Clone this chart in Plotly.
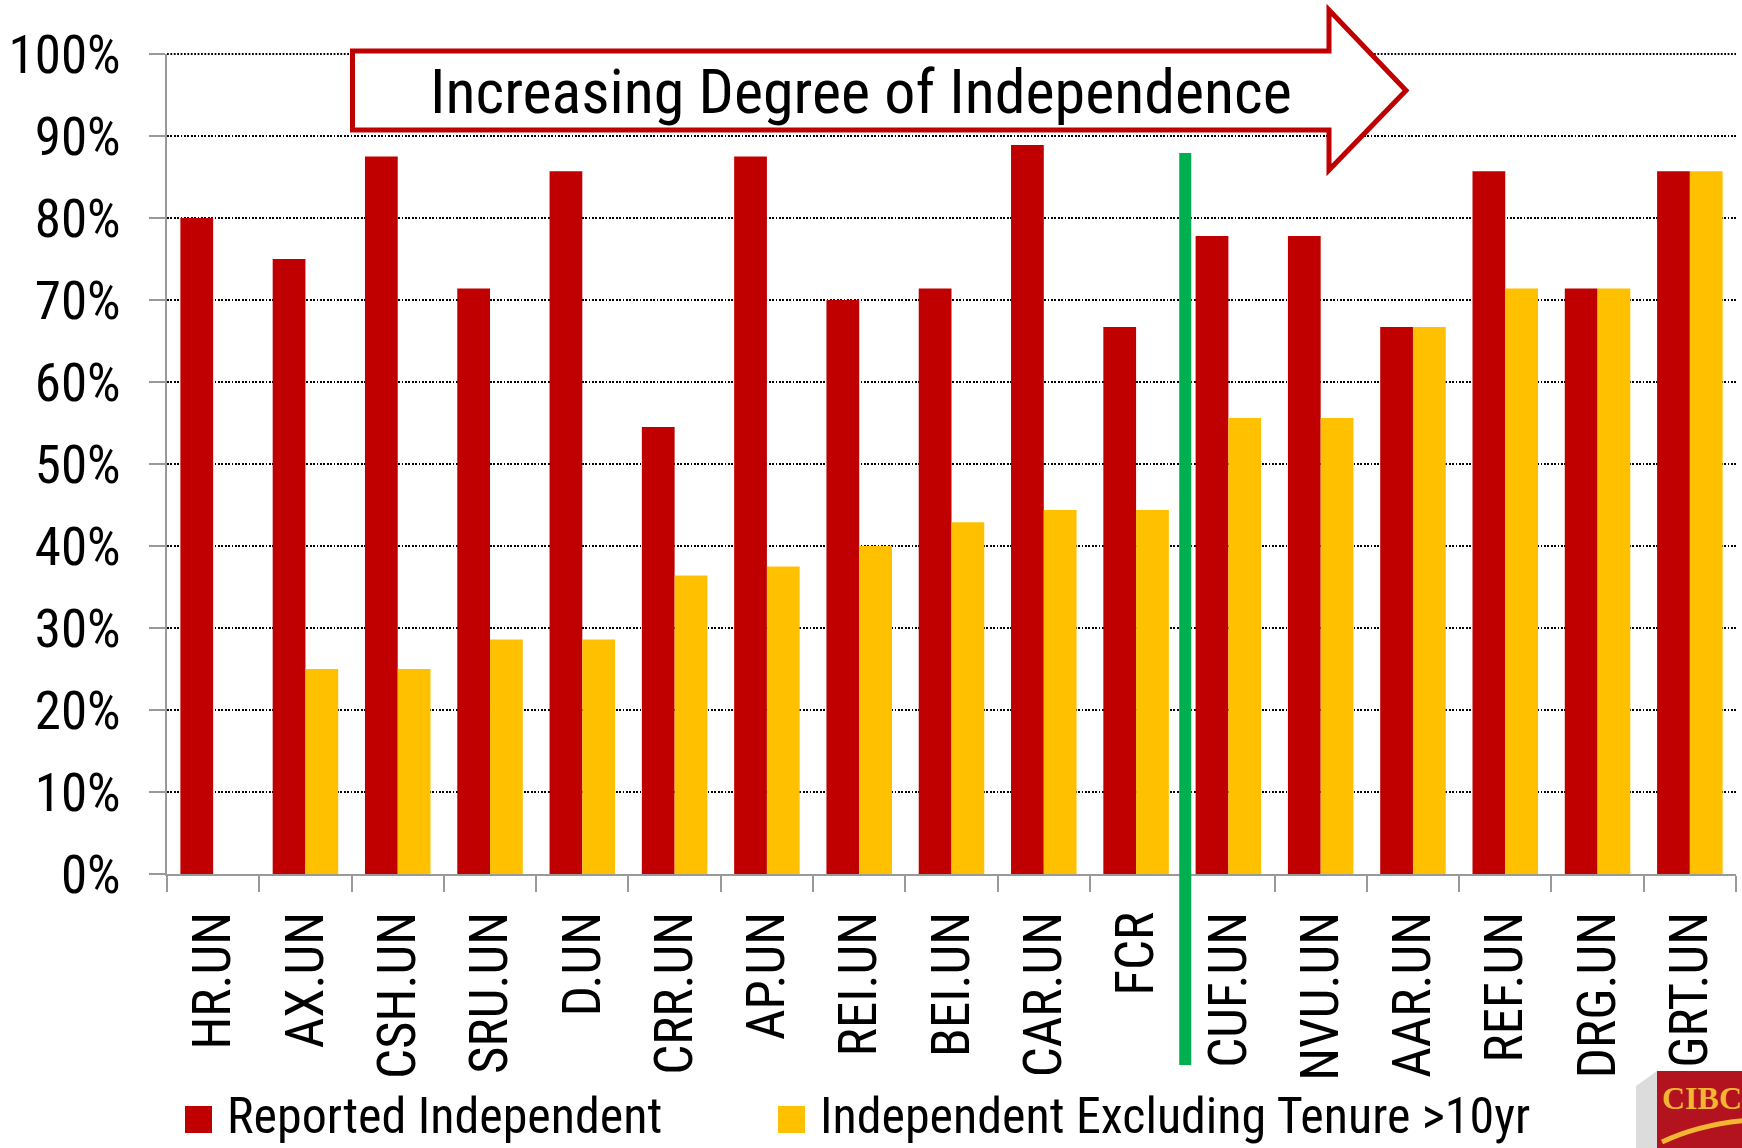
import plotly.graph_objects as go

# ---------------- data ----------------
categories = ["HR.UN", "AX.UN", "CSH.UN", "SRU.UN", "D.UN", "CRR.UN", "AP.UN", "REI.UN",
              "BEI.UN", "CAR.UN", "FCR", "CUF.UN", "NVU.UN", "AAR.UN", "REF.UN", "DRG.UN", "GRT.UN"]
reported_independent = [0.800, 0.750, 0.875, 0.714, 0.857, 0.545, 0.875, 0.700,
                        0.714, 0.889, 0.667, 0.778, 0.778, 0.667, 0.857, 0.714, 0.857]
indep_excl_tenure = [None, 0.250, 0.250, 0.286, 0.286, 0.364, 0.375, 0.400,
                     0.429, 0.444, 0.444, 0.556, 0.556, 0.667, 0.714, 0.714, 0.857]
series_names = ["Reported Independent", "Independent Excluding Tenure >10yr"]
y_tick_values = [0.0, 0.1, 0.2, 0.3, 0.4, 0.5, 0.6, 0.7, 0.8, 0.9, 1.0]
arrow_text = "Increasing Degree of Independence"
divider_after = "FCR"

# ---------------- styling ----------------
RED = "#c00000"
YELLOW = "#ffc000"
GREEN = "#00b050"
FONT = "Liberation Sans Narrow, Arial Narrow, Roboto Condensed, DejaVu Sans Condensed, sans-serif"
GRID_DASH = "1.8px,1.6px"

W, H = 1742, 1148
ML, MR, MT, MB = 167, 6, 54, 274
PW = W - ML - MR
PH = H - MT - MB


def px_x(px):
    return (px - ML) / PW


def px_y(py):
    return (H - MB - py) / PH


fig = go.Figure()
fig.add_trace(go.Bar(x=categories, y=reported_independent, name=series_names[0],
                     marker=dict(color=RED, line=dict(width=0)), showlegend=False))
fig.add_trace(go.Bar(x=categories, y=indep_excl_tenure, name=series_names[1],
                     marker=dict(color=YELLOW, line=dict(width=0)), showlegend=False))

shapes = []
annotations = []

# top (100%) gridline, which plotly omits at the range edge
shapes.append(dict(type="line", xref="paper", yref="paper", x0=0, x1=1, y0=1, y1=1,
                   line=dict(color="#000000", width=1.8, dash=GRID_DASH), layer="below"))

# arrow banner
ax0, ax1, ax2 = px_x(352.5), px_x(1329), px_x(1406)
by0, by1 = px_y(51), px_y(130)
hy0, hy1, ty = px_y(10), px_y(170), px_y(90.5)
path = (f"M {ax0},{by0} L {ax1},{by0} L {ax1},{hy0} L {ax2},{ty} L {ax1},{hy1} "
        f"L {ax1},{by1} L {ax0},{by1} Z")
shapes.append(dict(type="path", xref="paper", yref="paper", path=path,
                   fillcolor="white", line=dict(color=RED, width=5), layer="above"))
annotations.append(dict(text=arrow_text, xref="paper", yref="paper",
                        x=px_x(861), y=px_y(91), xanchor="center", yanchor="middle",
                        showarrow=False, font=dict(family=FONT, size=62, color="black")))

# green divider between FCR and CUF.UN
idx = categories.index(divider_after)
gx = (idx + 1.0) / len(categories) + 3 / PW
shapes.append(dict(type="line", xref="paper", yref="paper", x0=gx, x1=gx,
                   y0=px_y(1065), y1=px_y(153), line=dict(color=GREEN, width=12),
                   layer="above"))

# custom legend
leg = [(series_names[0], RED, 185, 227), (series_names[1], YELLOW, 778, 820)]
for name, col, sx, tx in leg:
    shapes.append(dict(type="rect", xref="paper", yref="paper",
                       x0=px_x(sx), x1=px_x(sx + 27), y0=px_y(1133), y1=px_y(1106),
                       fillcolor=col, line=dict(width=0)))
    annotations.append(dict(text=name, xref="paper", yref="paper", x=px_x(tx - 2),
                            y=px_y(1116), xanchor="left", yanchor="middle",
                            showarrow=False, font=dict(family=FONT, size=50, color="black")))

# logo fragment (bottom right)
shapes.append(dict(type="path", xref="paper", yref="paper",
                   path=f"M {px_x(1636)},{px_y(1086)} L {px_x(1657)},{px_y(1071)} "
                        f"L {px_x(1657)},{px_y(1150)} L {px_x(1636)},{px_y(1150)} Z",
                   fillcolor="#dcdcdc", line=dict(width=0)))
shapes.append(dict(type="rect", xref="paper", yref="paper",
                   x0=px_x(1657), x1=px_x(1750), y0=px_y(1150), y1=px_y(1071),
                   fillcolor="#b3121f", line=dict(width=0)))
shapes.append(dict(type="path", xref="paper", yref="paper",
                   path=f"M {px_x(1662)},{px_y(1142)} Q {px_x(1700)},{px_y(1124)} {px_x(1750)},{px_y(1120)}",
                   line=dict(color="#f2b632", width=5)))
annotations.append(dict(text="<b>CIBC</b>", xref="paper", yref="paper", x=px_x(1660),
                        y=px_y(1098), xanchor="left", yanchor="middle", showarrow=False,
                        font=dict(family="Liberation Serif, DejaVu Serif, serif", size=32,
                                  color="#f2b632")))

fig.update_layout(
    width=W, height=H,
    margin=dict(l=ML, r=MR, t=MT, b=MB, pad=0),
    paper_bgcolor="white", plot_bgcolor="white",
    barmode="group", bargap=0.29, bargroupgap=0,
    showlegend=False,
    shapes=shapes, annotations=annotations,
    font=dict(family=FONT, color="black"),
)
fig.update_xaxes(
    type="category", showline=True, linecolor="#999999", linewidth=1.5,
    ticks="outside", ticklen=16, tickwidth=1.5, tickcolor="#999999",
    tickson="boundaries", tickangle=-90, ticklabelstandoff=15,
    tickfont=dict(family=FONT, size=53, color="black"),
    showgrid=False, zeroline=False, automargin=False,
)
fig.update_yaxes(
    range=[0, 1], tickvals=y_tick_values, tickformat=".0%",
    showline=True, linecolor="#999999", linewidth=1.5,
    ticks="outside", ticklen=16, tickwidth=1.5, tickcolor="#999999",
    ticklabelstandoff=18,
    tickfont=dict(family=FONT, size=53, color="black"),
    showgrid=True, gridcolor="#000000", gridwidth=1.8, griddash=GRID_DASH,
    zeroline=False, automargin=False,
)

fig.write_html("out.html", config={"displayModeBar": False},
               post_script="document.body.style.margin='0';")
